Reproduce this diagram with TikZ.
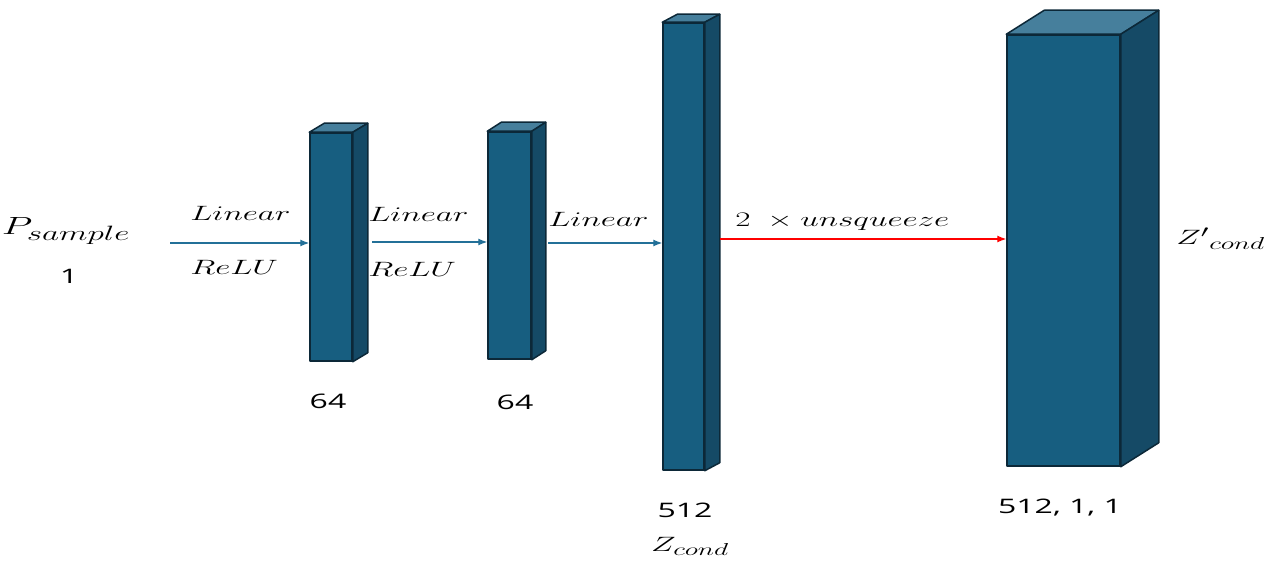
\documentclass[tikz,border=0pt]{standalone}
\usepackage{fontspec}
\usepackage{amsmath}
\usepackage{tikz}
\usetikzlibrary{arrows.meta}

\newfontfamily\numfont{Open Sans}
\DeclareMathSizes{20.74}{20.74}{17.28}{14.4}
\DeclareMathSizes{24.88}{24.88}{20.74}{17.28}

\definecolor{layerfront}{RGB}{23,94,128}
\definecolor{layerside}{RGB}{21,74,102}
\definecolor{layertop}{RGB}{70,127,156}
\definecolor{layeredge}{RGB}{12,40,56}
\definecolor{flowblue}{RGB}{35,112,152}

\begin{document}
\begin{tikzpicture}[x=1pt,y=1pt,
            layer/.style={draw=layeredge, fill=layerfront, line width=1.5pt, line join=round, inner sep=0pt},
            flow/.style={-{Latex[length=9pt,width=7pt]}, line width=1.2pt, flowblue},
            mathlbl/.style={inner sep=0pt, xscale=1.6, font=\fontsize{20.74}{24}\selectfont},
            numlbl/.style={inner sep=0pt, xscale=1.6, font=\numfont\fontsize{20}{24}\selectfont}]
            \useasboundingbox (0,0) rectangle (1278,566);
            % front faces of the layers
            \node[layer, minimum width=42, minimum height=228] (b1) at (331,319) {};
            \node[layer, minimum width=43, minimum height=227] (b2) at (509.5,320.5) {};
            \node[layer, minimum width=41, minimum height=447] (b3) at (683.5,319.5) {};
            \node[layer, minimum width=113, minimum height=431] (b4) at (1063.5,315.5) {};
            % top and side faces
            \foreach \n/\dx/\dy in {b1/15/9, b2/14/9, b3/15/8, b4/38/24}
            {
                \draw[layer, fill=layertop] (\n.north west) -- ++(\dx,\dy) -- ([shift={(\dx,\dy)}]\n.north east) -- (\n.north east) -- cycle;
                \draw[layer, fill=layerside] (\n.north east) -- ++(\dx,\dy) -- ([shift={(\dx,\dy)}]\n.south east) -- (\n.south east) -- cycle;
            }
            % connectors
            \coordinate (s1) at (170,323);
            \coordinate (s2) at (372,324);
            \coordinate (s3) at (548,323);
            \coordinate (s4) at (720,327);
            \draw[flow] (s1) -- (s1 -| b1.west);
            \draw[flow] (s2) -- (s2 -| b2.west);
            \draw[flow] (s3) -- (s3 -| b3.west);
            \draw[flow, red] (s4) -- (s4 -| b4.west);
            % labels
            \node[mathlbl, font=\fontsize{24.88}{28}\selectfont, anchor=base] (psample) at (66,331) {$P_{sample}$};
            \node[numlbl, anchor=base] (pin) at (69,283) {1};
            \node[mathlbl, anchor=base west] (lin1) at (190,345) {$Linear$};
            \node[mathlbl, anchor=base west] (relu1) at (190,291) {$ReLU$};
            \node[mathlbl, anchor=base west] (lin2) at (368,344) {$Linear$};
            \node[mathlbl, anchor=base west] (relu2) at (368,289) {$ReLU$};
            \node[mathlbl, anchor=base west] (lin3) at (548,339) {$Linear$};
            \node[mathlbl, anchor=base west] (unsq) at (735,339) {$2\;\times unsqueeze$};
            \node[mathlbl, anchor=base west] (zprime) at (1176,321) {${Z'}_{cond}$};
            \node[numlbl, anchor=base] (n1) at (328,158) {64};
            \node[numlbl, anchor=base] (n2) at (515,157) {64};
            \node[numlbl, anchor=base] (n3) at (685,49) {512};
            \node[mathlbl, anchor=base] (zcond) at (690,15) {$Z_{cond}$};
            \node[numlbl, anchor=base] (n4) at (1060,53) {512, 1, 1};
        \end{tikzpicture}
\end{document}
